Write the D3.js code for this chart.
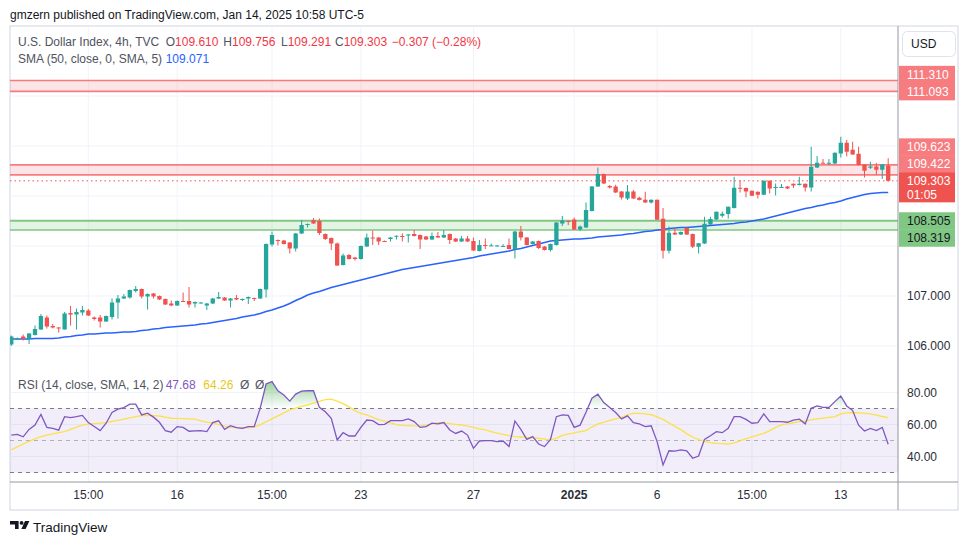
<!DOCTYPE html>
<html><head><meta charset="utf-8">
<script src="https://cdn.jsdelivr.net/npm/d3@7"></script>
<style>
body{margin:0;background:#fff;}
svg{display:block;font-family:"Liberation Sans",Arial,sans-serif;}
</style>
</head><body>
<svg id="c" width="970" height="545"></svg>
<script>
// ---------------- DATA ----------------
const opens = [106.03,106.14,106.19,106.14,106.22,106.33,106.57,106.40,106.37,106.33,
106.66,106.63,106.67,106.71,106.57,106.57,106.49,106.58,106.87,106.95,
106.97,107.10,107.14,106.99,107.05,107.00,106.94,106.85,106.81,106.90,
106.90,106.85,106.86,106.81,106.85,106.95,106.97,106.91,106.96,106.93,
106.95,106.96,106.95,107.13,108.03,108.12,108.11,108.07,107.95,108.25,
108.43,108.52,108.50,108.24,108.16,108.05,107.62,107.82,107.77,107.74,
107.99,108.17,108.17,108.10,108.14,108.20,108.20,108.21,108.24,108.22,
108.19,108.13,108.20,108.17,108.24,108.15,108.09,108.15,108.10,107.90,
108.02,108.01,108.00,107.99,108.02,107.94,108.29,108.17,108.04,108.10,
107.99,107.92,108.02,108.45,108.50,108.53,108.33,108.37,108.70,109.19,
109.44,109.20,109.19,109.09,108.95,109.09,108.965,108.925,108.87,108.925,
108.545,107.905,108.265,108.23,108.36,108.24,107.985,108.05,108.43,108.53,
108.605,108.64,108.76,109.165,109.16,109.105,109.085,109.025,109.305,109.17,
109.17,109.19,109.245,109.22,109.245,109.17,109.57,109.665,109.655,109.65,
109.85,110.065,109.925,109.845,109.63,109.565,109.59,109.525,109.610];
const highs = [106.21,106.17,106.23,106.26,106.41,106.64,106.61,106.44,106.38,106.68,
106.80,106.75,106.80,106.74,106.59,106.62,106.61,106.95,107.02,107.04,
107.13,107.20,107.15,107.05,107.06,107.01,106.95,106.91,106.91,107.07,
107.18,106.89,106.88,106.86,106.96,107.08,106.98,106.96,107.02,106.95,
106.99,106.97,107.15,108.05,108.29,108.13,108.12,108.08,108.26,108.52,
108.45,108.56,108.55,108.25,108.17,108.07,107.85,107.84,107.78,108.01,
108.25,108.31,108.18,108.11,108.18,108.21,108.25,108.24,108.32,108.23,
108.20,108.27,108.28,108.32,108.25,108.16,108.20,108.20,108.17,108.12,
108.15,108.05,108.02,108.04,108.15,108.30,108.40,108.18,108.10,108.11,
108.00,108.05,108.48,108.60,108.51,108.57,108.41,108.87,109.20,109.57,
109.45,109.22,109.225,109.10,109.22,109.12,108.985,109.085,108.93,108.93,
108.76,108.39,108.36,108.29,108.385,108.25,108.06,108.585,108.585,108.69,
108.69,108.79,109.385,109.32,109.17,109.11,109.09,109.31,109.31,109.25,
109.24,109.20,109.25,109.385,109.25,109.985,109.80,109.74,109.74,109.87,
110.185,110.12,110.085,109.985,109.635,109.685,109.66,109.64,109.756];
const lows = [106.00,106.12,106.11,106.04,106.21,106.32,106.35,106.35,106.27,106.33,
106.41,106.33,106.61,106.60,106.51,106.37,106.48,106.53,106.55,106.94,
106.95,107.07,106.95,106.73,106.95,106.92,106.82,106.80,106.80,106.88,
106.77,106.77,106.85,106.72,106.84,106.94,106.90,106.77,106.92,106.90,
106.84,106.90,106.94,106.97,107.99,108.01,108.03,107.85,107.89,108.24,
108.37,108.44,108.22,108.12,107.92,107.60,107.61,107.73,107.71,107.73,
107.98,108.02,108.02,108.08,108.09,108.13,108.09,108.07,108.19,107.94,
108.12,108.12,108.16,108.16,108.04,108.08,108.08,108.08,107.90,107.89,
107.94,108.00,107.99,107.98,107.93,107.75,108.11,108.01,108.03,107.94,
107.91,107.89,108.01,108.40,108.42,108.32,108.30,108.36,108.69,109.18,
109.24,109.15,109.06,108.93,108.92,108.94,108.91,108.86,108.85,108.52,
107.75,107.85,108.22,108.22,108.22,107.96,107.85,108.04,108.42,108.52,
108.57,108.55,108.75,109.07,108.975,109.00,108.95,109.02,109.05,109.01,
109.16,109.14,109.16,109.21,109.09,109.09,109.56,109.65,109.62,109.64,
109.77,109.79,109.82,109.61,109.37,109.54,109.425,109.34,109.291];
const closes = [106.19,106.15,106.14,106.25,106.34,106.60,106.39,106.37,106.35,106.65,
106.63,106.68,106.72,106.61,106.54,106.49,106.60,106.87,106.95,106.99,
107.12,107.14,106.99,107.04,106.99,106.93,106.83,106.81,106.90,106.89,
106.83,106.88,106.87,106.85,106.95,106.98,106.91,106.95,106.93,106.94,
106.98,106.95,107.14,108.04,108.22,108.10,108.04,107.95,108.25,108.42,
108.44,108.45,108.26,108.14,108.05,107.61,107.81,107.74,107.74,108.00,
108.17,108.16,108.09,108.09,108.17,108.205,108.19,108.23,108.20,108.13,
108.13,108.20,108.17,108.22,108.12,108.09,108.15,108.09,107.91,108.02,
108.01,108.013,108.01,108.00,107.94,108.29,108.17,108.02,108.09,107.96,
107.92,108.04,108.47,108.51,108.49,108.33,108.39,108.72,109.19,109.44,
109.25,109.17,109.07,108.97,109.09,108.95,108.92,108.87,108.925,108.525,
107.905,108.265,108.23,108.28,108.23,107.985,108.055,108.445,108.54,108.685,
108.645,108.785,109.165,109.145,109.09,109.005,109.025,109.305,109.15,109.18,
109.18,109.15,109.21,109.245,109.17,109.585,109.665,109.655,109.665,109.865,
110.065,109.885,109.83,109.62,109.505,109.59,109.525,109.63,109.303];
const sma50 = [106.14,106.14,106.14,106.14,106.15,106.15,106.15,106.15,
106.16,106.18,106.19,106.21,106.22,106.24,
106.24,106.25,106.26,106.26,106.27,106.28,106.28,106.29,
106.31,106.32,106.34,106.35,106.37,
106.38,106.39,106.40,106.41,106.42,106.44,106.45,
106.47,106.49,106.51,106.53,
106.55,106.58,106.60,106.62,106.65,
106.69,106.72,106.76,106.80,
106.85,106.91,106.96,107.02,
107.06,107.09,107.13,107.17,
107.20,107.23,107.26,107.29,107.32,107.35,107.38,107.41,107.44,107.47,107.50,107.53,
107.55,107.57,107.59,107.61,107.63,107.65,107.67,107.69,107.71,
107.73,107.75,107.77,107.80,107.82,
107.84,107.86,107.88,107.90,107.93,107.95,
107.98,108.01,108.04,108.07,108.10,
108.11,108.12,108.13,108.14,108.14,108.15,
108.16,108.18,108.19,
108.20,108.21,108.22,108.24,108.25,
108.27,108.29,108.30,108.32,108.33,108.35,
108.36,108.37,108.37,108.38,108.39,
108.40,108.41,108.42,108.43,108.44,108.45,
108.47,108.48,108.50,108.52,108.54,
108.57,108.60,108.63,108.66,108.69,108.72,
108.75,108.77,108.80,108.82,108.85,108.87,
108.90,108.94,108.97,109.00,109.03,
109.05,109.06,109.07,109.071];
const rsi = [53.4,53.8,52.3,56.9,59.6,66.3,58.2,57.6,56.5,64.9,
64.3,64.9,65.7,61.2,58.7,56.2,60.8,67.5,69.6,70.6,
72.7,72.7,66.0,67.1,64.6,61.4,56.2,55.2,58.7,58.2,
55.8,56.0,56.2,55.6,61.2,62.3,57.0,59.3,58.0,57.6,
58.7,58.7,70.1,85.3,86.8,81.1,78.4,74.6,79.0,80.9,
81.1,81.1,70.7,68.0,63.9,50.3,54.9,52.8,52.8,58.2,
62.8,62.4,59.9,60.1,62.4,62.4,62.4,63.5,61.8,58.2,
58.7,60.8,60.4,61.2,56.6,54.4,55.9,53.4,45.1,49.7,
49.9,49.9,49.3,
49.7,46.2,62.2,57.0,50.7,52.4,47.8,46.2,50.7,64.9,
66.0,65.7,58.2,59.6,67.6,76.4,78.9,73.7,70.6,67.5,
63.5,65.4,61.2,60.4,58.7,59.2,49.3,34.7,43.6,43.4,
44.1,43.6,38.9,40.3,50.7,53.0,55.5,54.9,57.6,64.9,
64.9,63.2,60.8,61.2,66.6,61.8,61.8,61.8,61.4,62.8,
63.3,60.4,70.1,71.6,70.7,70.7,74.3,77.8,71.6,68.7,
59.6,55.9,57.6,56.2,58.2,47.68];
const rsiMa = [44.1,46.0,47.8,49.5,51.0,52.4, 53.3,54.1,54.9,55.6, 57.0,58.4,59.6,60.2,
60.6,60.9,61.2, 61.9,62.6,63.3, 64.1,64.9,65.6, 65.7,65.6,65.3, 64.6,63.9,63.8,
63.7,63.5,63.3, 62.3,61.5,60.8, 59.9,59.0,58.2, 58.1,58.0,58.1,58.3, 59.8,61.7,63.5,
65.4,67.3,69.1, 70.2,71.4,72.3, 73.4,74.5,75.5, 75.8,74.6,73.0, 71.0,68.7,67.0,
66.0,64.4,63.1, 62.1,61.0,59.9, 59.5,59.3,59.1,59.0, 59.6,60.4,61.2, 61.0,60.6,60.1,59.7,
59.0,58.2,57.2, 56.6,55.6,54.6, 53.8,53.0,52.4, 52.2,52.0,51.7,51.4,50.8, 50.2,51.5,53.2,
54.0,54.8,55.5,56.2, 58.4,60.4,61.4, 62.5,63.5,64.4, 66.0,67.0,66.9, 66.6,66.1,64.8,
63.2,61.0,58.8, 56.8,54.3,52.2, 50.6,49.5,48.7, 48.2,48.0,47.8, 48.5,49.7,51.1,
52.2,53.4,54.5, 56.2,58.2,59.7, 60.4,61.1,61.8, 62.3,62.9,63.5, 64.0,64.5,64.9,
66.6,67.3,67.5, 67.3,67.0,66.6, 65.9,65.0,64.26];
const timeTickLabels = ["15:00","16","15:00","23","27","2025","6","15:00","13"];
const timeTickBars = [13,28,44,59,78,95,109,125,140];
const priceTicks = [106,107,108,109,110,111];
const rsiTicks = [80,60,40];
const redZones = [[111.310,111.093],[109.623,109.422]];
const greenZones = [[108.505,108.319]];
const lastPrice = 109.303, countdown = "01:05";
const legendOHLC = [["O","109.610"],["H","109.756"],["L","109.291"],["C","109.303"]];
const legendChange = "\u22120.307 (\u22120.28%)";
const smaLast = "109.071", rsiLast = "47.68", rsiMaLast = "64.26";

// ---------------- LAYOUT ----------------
const svg = d3.select("#c");
const plotL = 10, plotR = 898, topY = 26, sep = 369, axisY = 482, frameR = 958, frameB = 510;
const N = closes.length;
const x = d3.scaleLinear().domain([0, N - 1]).range([11.3, 888.2]);
const y = d3.scaleLinear().domain([106, 111]).range([346, 96]);
const yr = d3.scaleLinear().domain([30, 70]).range([472.5, 408.5]);
const UP = "#26a69a", DN = "#ef5350", GRID = "#f0f3fa";

const defs = svg.append("defs");
defs.append("clipPath").attr("id","cm").append("rect")
  .attr("x",plotL).attr("y",topY).attr("width",plotR-plotL).attr("height",sep-topY);
defs.append("clipPath").attr("id","cr").append("rect")
  .attr("x",plotL).attr("y",sep).attr("width",plotR-plotL).attr("height",axisY-sep);
defs.append("clipPath").attr("id","cob").append("rect")
  .attr("x",plotL).attr("y",sep).attr("width",plotR-plotL).attr("height",yr(70)-sep);
const grad = defs.append("linearGradient").attr("id","gob")
  .attr("gradientUnits","userSpaceOnUse").attr("x1",0).attr("x2",0)
  .attr("y1",yr(100)).attr("y2",yr(70));
grad.append("stop").attr("offset",0).attr("stop-color","rgb(76,175,80)").attr("stop-opacity",1);
grad.append("stop").attr("offset",1).attr("stop-color","rgb(76,175,80)").attr("stop-opacity",0);

// header
svg.append("text").attr("x",10).attr("y",18.5).attr("font-size",12).attr("fill","#131722")
  .text("gmzern published on TradingView.com, Jan 14, 2025 10:58 UTC-5");

// frame
svg.append("rect").attr("x",plotL).attr("y",topY).attr("width",frameR-plotL).attr("height",frameB-topY)
  .attr("fill","none").attr("stroke","#e0e3eb").attr("stroke-width",1.5);

// grid
const gGrid = svg.append("g").attr("stroke",GRID).attr("stroke-width",1);
gGrid.selectAll(".vg").data(timeTickBars).join("line").attr("class","vg")
  .attr("x1",d=>x(d)).attr("x2",d=>x(d)).attr("y1",topY).attr("y2",axisY);
gGrid.selectAll(".hg").data(priceTicks).join("line").attr("class","hg")
  .attr("x1",plotL).attr("x2",plotR).attr("y1",d=>y(d)).attr("y2",d=>y(d));
gGrid.selectAll(".rg").data(rsiTicks).join("line").attr("class","rg")
  .attr("x1",plotL).attr("x2",plotR).attr("y1",d=>yr(d)).attr("y2",d=>yr(d));

// main pane
const gm = svg.append("g").attr("clip-path","url(#cm)");
redZones.forEach(z=>{
  gm.append("rect").attr("x",plotL).attr("width",plotR-plotL)
    .attr("y",y(z[0])).attr("height",y(z[1])-y(z[0])).attr("fill","rgba(242,54,69,0.13)");
  z.forEach(p=>gm.append("line").attr("x1",plotL).attr("x2",plotR).attr("y1",y(p)).attr("y2",y(p))
    .attr("stroke","#f77c80").attr("stroke-width",1.6));
});
greenZones.forEach(z=>{
  gm.append("rect").attr("x",plotL).attr("width",plotR-plotL)
    .attr("y",y(z[0])).attr("height",y(z[1])-y(z[0])).attr("fill","rgba(129,199,132,0.22)");
  z.forEach((p,k)=>gm.append("line").attr("x1",plotL).attr("x2",plotR).attr("y1",y(p)).attr("y2",y(p))
    .attr("stroke","#81c784").attr("stroke-width",k===0?2.2:1.6));
});
// SMA
gm.append("path").datum(sma50).attr("fill","none").attr("stroke","#2962ff").attr("stroke-width",1.6)
  .attr("d",d3.line().x((d,i)=>x(i)).y(d=>y(d)));
// candles
const bars = d3.range(N).map(i=>({i,o:opens[i],h:highs[i],l:lows[i],c:closes[i]}));
const bw = 4.3;
const gc = gm.append("g");
gc.selectAll(".w").data(bars).join("line").attr("class","w")
  .attr("x1",d=>x(d.i)).attr("x2",d=>x(d.i)).attr("y1",d=>y(d.h)).attr("y2",d=>y(d.l))
  .attr("stroke",d=>d.c>=d.o?UP:DN).attr("stroke-width",1);
gc.selectAll(".b").data(bars).join("rect").attr("class","b")
  .attr("x",d=>x(d.i)-bw/2).attr("width",bw)
  .attr("y",d=>y(Math.max(d.o,d.c))).attr("height",d=>Math.max(1,Math.abs(y(d.o)-y(d.c))))
  .attr("fill",d=>d.c>=d.o?UP:DN);
// last price dotted line
gm.append("line").attr("x1",plotL).attr("x2",plotR).attr("y1",y(lastPrice)).attr("y2",y(lastPrice))
  .attr("stroke",DN).attr("stroke-width",1).attr("stroke-dasharray","1.5,3");

// RSI pane
const gr = svg.append("g").attr("clip-path","url(#cr)");
gr.append("rect").attr("x",plotL).attr("width",plotR-plotL).attr("y",yr(70)).attr("height",yr(30)-yr(70))
  .attr("fill","rgba(126,87,194,0.1)");
[[70,"#787b86"],[50,"rgba(120,123,134,0.55)"],[30,"#787b86"]].forEach(([v,c])=>{
  gr.append("line").attr("x1",plotL).attr("x2",plotR).attr("y1",yr(v)).attr("y2",yr(v))
    .attr("stroke",c).attr("stroke-width",1).attr("stroke-dasharray","4,4");
});
gr.append("path").datum(rsi).attr("clip-path","url(#cob)").attr("fill","url(#gob)")
  .attr("d",d3.area().x((d,i)=>x(i)).y0(yr(70)).y1(d=>yr(d)));
gr.append("path").datum(rsiMa).attr("fill","none").attr("stroke","#fbe14a").attr("stroke-width",1.3)
  .attr("d",d3.line().x((d,i)=>x(i)).y(d=>yr(d)));
gr.append("path").datum(rsi).attr("fill","none").attr("stroke","#7e57c2").attr("stroke-width",1.3)
  .attr("d",d3.line().x((d,i)=>x(i)).y(d=>yr(d)));

// axes lines
svg.append("line").attr("x1",plotR).attr("x2",plotR).attr("y1",topY).attr("y2",frameB)
  .attr("stroke","#9598a1").attr("stroke-width",1);
svg.append("line").attr("x1",plotL).attr("x2",frameR).attr("y1",axisY).attr("y2",axisY)
  .attr("stroke","#9598a1").attr("stroke-width",1);

// time labels
svg.selectAll(".tl").data(timeTickBars).join("text").attr("class","tl")
  .attr("x",d=>x(d)).attr("y",499).attr("text-anchor","middle").attr("font-size",12)
  .attr("fill","#2a2e39").attr("font-weight",(d,i)=>timeTickLabels[i]==="2025"?"bold":"normal")
  .text((d,i)=>timeTickLabels[i]);

// price labels with collision layout
const LH = 17;
const cur = {p:lastPrice, top:y(lastPrice)-8.5, bot:y(lastPrice)+21.5};
const zoneLabels = [];
redZones.forEach(z=>z.forEach(p=>zoneLabels.push({p,fill:"#f77c80",tc:"#fff"})));
greenZones.forEach(z=>z.forEach(p=>zoneLabels.push({p,fill:"#81c784",tc:"#131722"})));
const above = zoneLabels.filter(d=>d.p>lastPrice).sort((a,b)=>a.p-b.p);
const below = zoneLabels.filter(d=>d.p<lastPrice).sort((a,b)=>b.p-a.p);
let limit = cur.top;
above.forEach(d=>{ let c=y(d.p); if(c+LH/2>limit) c=limit-LH/2; d.cy=c; limit=c-LH/2; });
limit = cur.bot;
below.forEach(d=>{ let c=y(d.p); if(c-LH/2<limit) c=limit+LH/2; d.cy=c; limit=c+LH/2; });
const boxes = zoneLabels.map(d=>[d.cy-LH/2, d.cy+LH/2]).concat([[cur.top, cur.bot]]);

// right axis tick labels (those mostly hidden behind a label box are not drawn)
const covered = v => boxes.some(b => y(v) >= b[0] && y(v) <= b[1]);
svg.selectAll(".pl").data(priceTicks.filter(v=>!covered(v))).join("text").attr("class","pl")
  .attr("x",907).attr("y",d=>y(d)+4.3).attr("font-size",12).attr("fill","#2a2e39")
  .text(d=>d3.format(".3f")(d));
svg.selectAll(".rl").data(rsiTicks).join("text").attr("class","rl")
  .attr("x",907).attr("y",d=>yr(d)+4.3).attr("font-size",12).attr("fill","#2a2e39")
  .text(d=>d3.format(".2f")(d));

const gl = svg.append("g");
zoneLabels.forEach(d=>{
  gl.append("rect").attr("x",899).attr("width",56).attr("y",d.cy-LH/2).attr("height",LH+0.5).attr("fill",d.fill);
});
zoneLabels.forEach(d=>{
  gl.append("text").attr("x",907).attr("y",d.cy+4.3).attr("font-size",12).attr("fill",d.tc)
    .text(d3.format(".3f")(d.p));
});
gl.append("rect").attr("x",899).attr("width",56).attr("y",cur.top).attr("height",cur.bot-cur.top).attr("fill",DN);
gl.append("text").attr("x",907).attr("y",y(lastPrice)+4.3).attr("font-size",12).attr("fill","#fff")
  .text(d3.format(".3f")(lastPrice));
gl.append("text").attr("x",907).attr("y",y(lastPrice)+17.8).attr("font-size",12).attr("fill","#fff")
  .text(countdown);

// USD button
svg.append("rect").attr("x",902.5).attr("y",31.5).attr("width",53).attr("height",25).attr("rx",5)
  .attr("fill","#fff").attr("stroke","#e0e3eb");
svg.append("text").attr("x",911).attr("y",48).attr("font-size",12).attr("fill","#131722").text("USD");

// legends
svg.append("text").attr("x",18).attr("y",46).attr("font-size",12).attr("fill","#50535e")
  .text("U.S. Dollar Index, 4h, TVC");
const lx = [165.7,223.3,281,335];
legendOHLC.forEach((d,i)=>{
  const t = svg.append("text").attr("x",lx[i]).attr("y",46).attr("font-size",12).attr("fill","#50535e");
  t.append("tspan").text(d[0]);
  t.append("tspan").attr("fill","#f23645").text(d[1]);
});
svg.append("text").attr("x",391.7).attr("y",46).attr("font-size",12).attr("fill","#f23645").text(legendChange);
svg.append("text").attr("x",18).attr("y",62.5).attr("font-size",12).attr("fill","#50535e")
  .text("SMA (50, close, 0, SMA, 5)");
svg.append("text").attr("x",165.7).attr("y",62.5).attr("font-size",12).attr("fill","#2962ff").text(smaLast);
svg.append("text").attr("x",18).attr("y",389).attr("font-size",12).attr("fill","#50535e")
  .text("RSI (14, close, SMA, 14, 2)");
svg.append("text").attr("x",165.7).attr("y",389).attr("font-size",12).attr("fill","#7e57c2").text(rsiLast);
svg.append("text").attr("x",203.3).attr("y",389).attr("font-size",12).attr("fill","#e8c81a").text(rsiMaLast);
svg.append("text").attr("x",240).attr("y",389).attr("font-size",12).attr("fill","#50535e").text("\u00D8");
svg.append("text").attr("x",255).attr("y",389).attr("font-size",12).attr("fill","#50535e").text("\u00D8");

// TradingView logo
const lg = svg.append("g").attr("fill","#131722");
lg.append("path").attr("d","M10,521 H18.6 V529 H15 V524.6 H10 Z");
lg.append("circle").attr("cx",21.6).attr("cy",522.9).attr("r",1.9);
lg.append("path").attr("d","M25,521 H29.4 L25.6,529 H21.4 Z");
svg.append("text").attr("x",33).attr("y",531.5).attr("font-size",13.5).attr("fill","#131722").text("TradingView");
</script>
</body></html>
